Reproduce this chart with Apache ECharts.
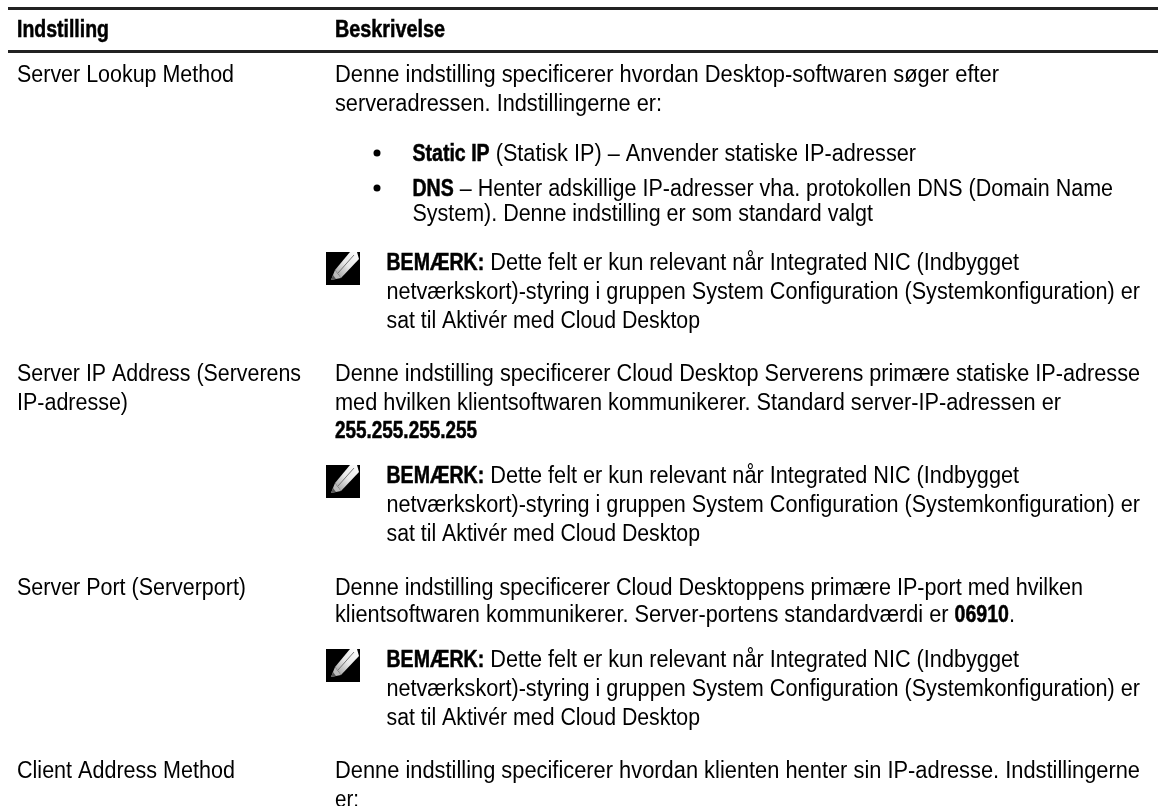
<!DOCTYPE html>
<html>
<head>
<meta charset="utf-8">
<style>html,body{margin:0;padding:0;background:#fff}#main{width:1158px;height:806px}</style>
<script src="https://cdn.jsdelivr.net/npm/echarts@6/dist/echarts.min.js"></script>
</head>
<body>
<div id="main"></div>
<script>
const headers = ['{b|Indstilling}', '{b|Beskrivelse}']
const headerRight = [109, 445]

const col1Lines = [
  'Server Lookup Method',
  'Server IP Address (Serverens',
  'IP-adresse)',
  'Server Port (Serverport)',
  'Client Address Method'
]
const col1Y = [74, 373, 402, 587, 770]
const col1Right = [234, 301, 128, 246, 235]

const col2Lines = [
  'Denne indstilling specificerer hvordan Desktop-softwaren søger efter',
  'serveradressen. Indstillingerne er:',
  'Denne indstilling specificerer Cloud Desktop Serverens primære statiske IP-adresse',
  'med hvilken klientsoftwaren kommunikerer. Standard server-IP-adressen er',
  '{b|255.255.255.255}',
  'Denne indstilling specificerer Cloud Desktoppens primære IP-port med hvilken',
  'klientsoftwaren kommunikerer. Server-portens standardværdi er {b|06910}.',
  'Denne indstilling specificerer hvordan klienten henter sin IP-adresse. Indstillingerne',
  'er:'
]
const col2Y = [74, 103, 373, 402, 430, 587, 614, 770, 799]
const col2Right = [999, 662, 1140, 1061, 477, 1083, 1015, 1140, 359]

const bulletLines = [
  '{b|Static IP} (Statisk IP) – Anvender statiske IP-adresser',
  '{b|DNS} – Henter adskillige IP-adresser vha. protokollen DNS (Domain Name',
  'System). Denne indstilling er som standard valgt'
]
const bulletY = [153, 188, 213]
const bulletRight = [916, 1113, 873]

const noteLines = [
  '{b|BEMÆRK:} Dette felt er kun relevant når Integrated NIC (Indbygget',
  'netværkskort)-styring i gruppen System Configuration (Systemkonfiguration) er',
  'sat til Aktivér med Cloud Desktop'
]
const noteTop = [262, 475, 659]
const noteRight = [1019, 1140, 700]

const font = '"Liberation Sans", sans-serif'
const fontSize = 23
const boldSqueeze = 0.85
const yShift = 2

const ctx = document.createElement('canvas').getContext('2d')
function measure(text, weight) {
  ctx.font = weight + ' ' + fontSize + 'px "Liberation Sans"'
  return ctx.measureText(text).width
}

// splits "{b|x} y" into runs and squeezes each run so the line ends where the reference ends
function line(x, y, text, right) {
  const runs = text.split(/(\{b\|[^}]*\})/).filter(Boolean).map(t => {
    const bold = t.startsWith('{b|')
    const s = bold ? t.slice(3, -1) : t
    return { s, bold, w: measure(s, bold ? 'bold' : 'normal') }
  })
  const boldW = runs.filter(r => r.bold).reduce((a, r) => a + r.w * boldSqueeze, 0)
  const normW = runs.filter(r => !r.bold).reduce((a, r) => a + r.w, 0)
  const onlyBold = normW === 0
  const sx = onlyBold ? (right - x) / boldW * boldSqueeze : (right - x - boldW) / normW
  let cx = x
  return runs.map(r => {
    const k = r.bold ? (onlyBold ? sx : boldSqueeze) : sx
    const el = {
      type: 'text', x: cx, y: y + yShift, scaleX: k, silent: true,
      style: {
        text: r.s, fontFamily: font, fontSize, fontWeight: r.bold ? 'bold' : 'normal', fill: '#000', verticalAlign: 'middle',
        stroke: r.bold ? '#000' : null, lineWidth: r.bold ? 0.5 : 0
      }
    }
    cx += r.w * k
    return el
  })
}

function pencil(x, y) {
  const pts = list => list.map(p => [x + p[0], y + p[1]])
  return [
    { type: 'rect', shape: { x, y, width: 34, height: 33 }, style: { fill: '#000' } },
    {
      type: 'polygon',
      shape: { points: pts([[9, 18], [24, 0], [31, 0], [33, 7], [15, 26]]) },
      style: {
        fill: new echarts.graphic.LinearGradient(0, 1, 1, 0, [
          { offset: 0, color: '#999' },
          { offset: 0.5, color: '#e8e8e8' },
          { offset: 1, color: '#fff' }
        ])
      }
    },
    { type: 'polygon', shape: { points: pts([[5, 28], [9, 18], [15, 26]]) }, style: { fill: '#bbb' } },
    { type: 'polygon', shape: { points: pts([[5, 28], [7, 23], [10, 27]]) }, style: { fill: '#555' } },
    { type: 'polyline', shape: { points: pts([[12, 21], [28, 3]]) }, style: { stroke: '#777', lineWidth: 1, fill: 'none' } }
  ]
}

const els = []
els.push({ type: 'rect', shape: { x: 8, y: 7, width: 1150, height: 3 }, style: { fill: '#222' } })
els.push({ type: 'rect', shape: { x: 8, y: 50, width: 1150, height: 3 }, style: { fill: '#222' } })
els.push(...line(17, 29, headers[0], headerRight[0]))
els.push(...line(335, 29, headers[1], headerRight[1]))
col1Lines.forEach((t, i) => els.push(...line(17, col1Y[i], t, col1Right[i])))
col2Lines.forEach((t, i) => els.push(...line(335, col2Y[i], t, col2Right[i])))
bulletLines.forEach((t, i) => els.push(...line(412.5, bulletY[i], t, bulletRight[i])))
bulletY.slice(0, 2).forEach(y => els.push({ type: 'circle', shape: { cx: 377, cy: y, r: 3.5 }, style: { fill: '#000' } }))
noteTop.forEach(top => {
  noteLines.forEach((t, i) => els.push(...line(386.5, top + i * 29, t, noteRight[i])))
  els.push(...pencil(326, top - 10))
})

const chart = echarts.init(document.getElementById('main'), null, { renderer: 'canvas' })
chart.setOption({ backgroundColor: '#fff', animation: false, graphic: { elements: els } })
</script>
</body>
</html>
